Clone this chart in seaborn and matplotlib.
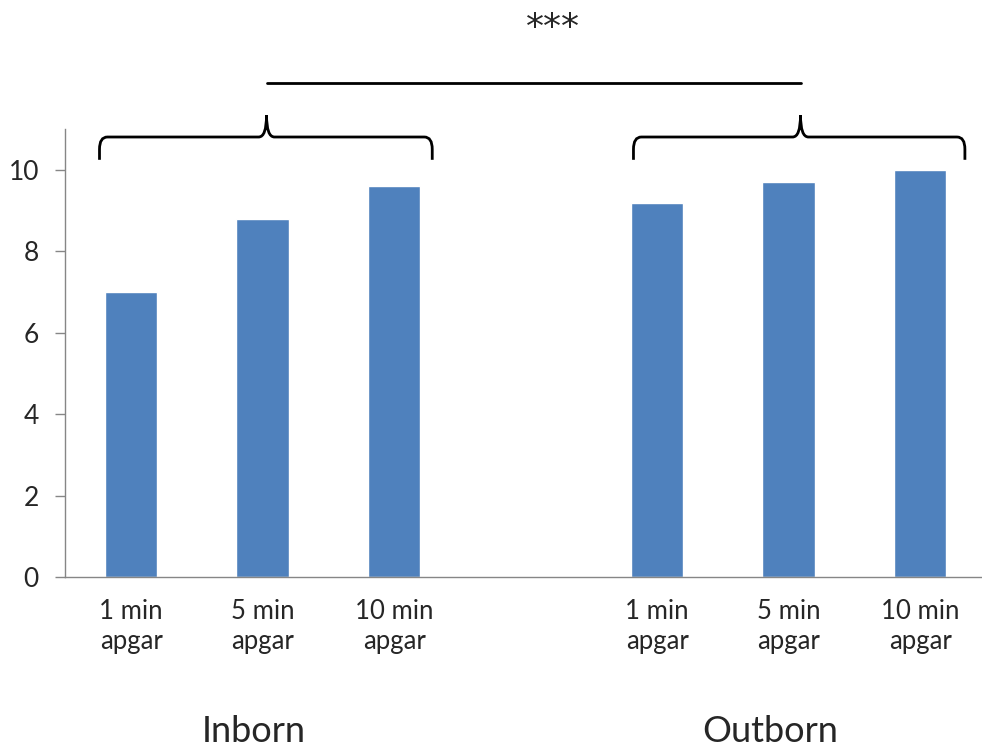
import numpy as np
import pandas as pd
import matplotlib.pyplot as plt
from matplotlib.path import Path
from matplotlib.patches import PathPatch
import seaborn as sns

# data
groups = ["Inborn", "Outborn"]
measures = ["1 min\napgar", "5 min\napgar", "10 min\napgar"]
inborn_scores = [7.0, 8.8, 9.6]
outborn_scores = [9.2, 9.7, 10.0]
y_ticks = [0, 2, 4, 6, 8, 10]
signif = "***"

sns.set_style("white")
plt.rcParams['font.family'] = ['Lato', 'DejaVu Sans']

bar_color = "#4F81BD"
axis_color = "#868686"
text_color = "#262626"

# one category per bar, plus an empty slot between the groups
rows = []
for g, vals in zip(groups, [inborn_scores, outborn_scores]):
    for m, v in zip(measures, vals):
        rows.append({"slot": f"{g}|{m}", "score": v})
df = pd.DataFrame(rows)
order = [f"{groups[0]}|{m}" for m in measures] + ["gap"] + [f"{groups[1]}|{m}" for m in measures]

fig = plt.figure(figsize=(9.82, 7.49), dpi=100)
ax = fig.add_axes([0.0665, 0.2296, 0.9335, 0.5978])

sns.barplot(data=df, x="slot", y="score", order=order, color=bar_color,
            width=0.4, saturation=1, ax=ax)

ax.set_xlim(-0.5, 6.47)
ax.set_ylim(0, 11)
ax.set_yticks(y_ticks)
ax.set_xticks(range(len(order)))
ax.set_xticklabels([s.split("|")[1] if "|" in s else "" for s in order])
ax.set_xlabel("")
ax.set_ylabel("")

for s in ["top", "right"]:
    ax.spines[s].set_visible(False)
for s in ["left", "bottom"]:
    ax.spines[s].set_color(axis_color)
    ax.spines[s].set_linewidth(1.0)

ax.tick_params(axis="y", length=7, width=1, color=axis_color, pad=12,
               labelsize=19, labelcolor=text_color, left=True)
ax.tick_params(axis="x", length=0, pad=15.5, labelsize=18.5, labelcolor=text_color)
for lbl in ax.get_xticklabels():
    lbl.set_linespacing(1.25)


def brace(ax, x0, x1, xc, y_end, y_mid, y_tip):
    dx, dy = 0.06, 0.3
    verts = [
        (x0, y_end), (x0, y_mid - dy),
        (x0, y_mid), (x0 + dx, y_mid),
        (xc - dx, y_mid),
        (xc, y_mid), (xc, y_tip),
        (xc, y_mid), (xc + dx, y_mid),
        (x1 - dx, y_mid),
        (x1, y_mid), (x1, y_mid - dy),
        (x1, y_end),
    ]
    codes = [Path.MOVETO, Path.LINETO,
             Path.CURVE3, Path.CURVE3,
             Path.LINETO,
             Path.CURVE3, Path.CURVE3,
             Path.CURVE3, Path.CURVE3,
             Path.LINETO,
             Path.CURVE3, Path.CURVE3,
             Path.LINETO]
    patch = PathPatch(Path(verts, codes), facecolor="none", edgecolor="black",
                      lw=2, clip_on=False, capstyle="butt")
    ax.add_patch(patch)


# curly braces over each group
brace(ax, -0.24, 2.29, 1.03, 10.25, 10.81, 11.35)
brace(ax, 3.82, 6.34, 5.09, 10.25, 10.81, 11.35)

# significance line and stars
ax.plot([1.03, 5.09], [12.14, 12.14], color="black", lw=2, clip_on=False)
ax.text(3.21, 13.5, signif, ha="center", va="center", fontsize=26,
        family="DejaVu Sans", color=text_color, clip_on=False)

# group labels under the axis
fig.text(254 / 982, 7 / 749, groups[0], ha="center", va="baseline",
         fontsize=26, color=text_color)
fig.text(770 / 982, 7 / 749, groups[1], ha="center", va="baseline",
         fontsize=26, color=text_color)

fig.savefig("out.png", dpi=100)
